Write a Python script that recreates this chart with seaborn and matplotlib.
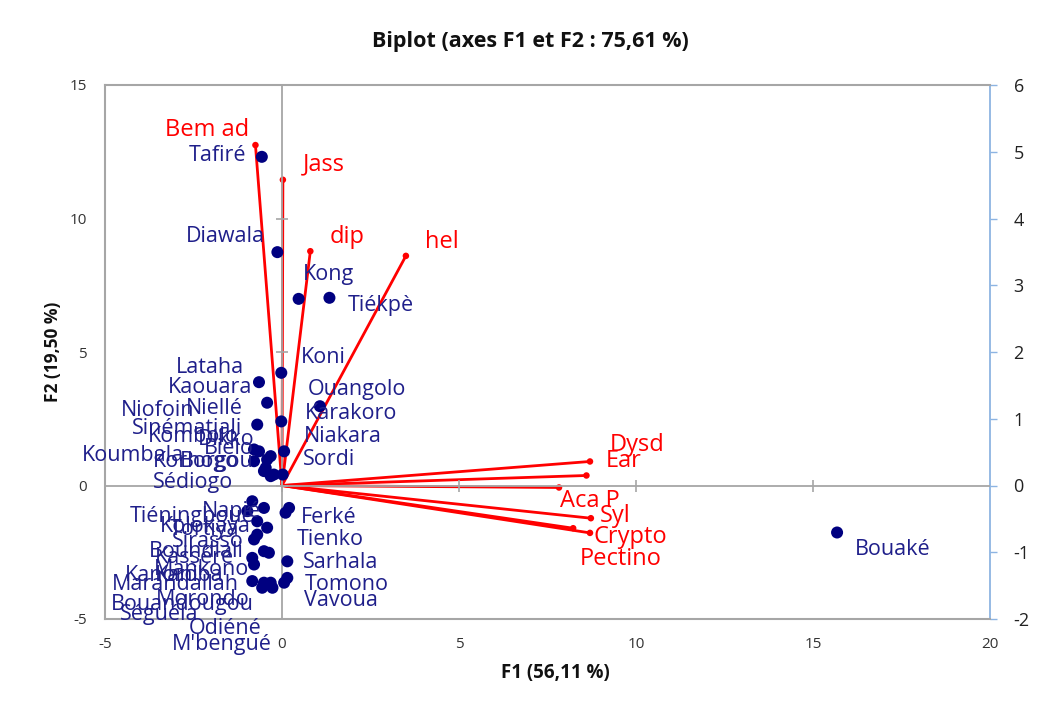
import matplotlib
matplotlib.use("Agg")
import matplotlib.pyplot as plt
import seaborn as sns
import pandas as pd

# ---------------- data ----------------
obs_names = ["Tafiré", "Diawala", "Kong", "Tiékpè",
             "Koni", "Ouangolo", "Karakoro", "Niakara", "Sordi",
             "Lataha", "Kaouara", "Niellé", "Niofoin", "Sinématiali", "Kombolo",
             "Dikko", "Bielo", "Koumbala", "Korhogo", "Borgou", "Sédiogo",
             "Napié", "Tiéningboué", "Tortiya", "Kolokaya", "Sirasso", "Boundiali",
             "Kasséré", "Mankono", "Kanoroba", "Marandallah", "Kani", "Morondo",
             "Bouandougou", "Séguéla", "Odiéné", "M'bengué",
             "Ferké", "Tienko", "Sarhala", "Tomono", "Vavoua", "Bouaké"]
obs_f1 = [-0.57, -0.13, 0.47, 1.34,
          -0.02, 1.07, -0.02, 0.06, 0.02,
          -0.65, -0.42, -0.70, -0.79, -0.65, -0.32,
          -0.42, -0.79, -0.46, -0.51, -0.23, -0.32,
          -0.84, -0.51, -0.98, -0.70, -0.42, -0.70,
          -0.79, -0.51, -0.37, -0.84, -0.79, -0.84,
          -0.51, -0.32, -0.56, -0.27,
          0.20, 0.10, 0.15, 0.15, 0.06, 15.68]
obs_f2 = [12.31, 8.74, 6.99, 7.03,
          4.22, 2.97, 2.40, 1.28, 0.41,
          3.87, 3.10, 2.28, 1.35, 1.28, 1.10,
          0.97, 0.91, 0.66, 0.54, 0.41, 0.35,
          -0.59, -0.84, -0.96, -1.34, -1.58, -1.84,
          -2.02, -2.46, -2.52, -2.71, -2.96, -3.58,
          -3.64, -3.64, -3.83, -3.83,
          -0.84, -1.02, -2.84, -3.46, -3.64, -1.76]

var_names = ["Bem ad", "Jass", "dip", "hel", "Dysd", "Ear",
             "Aca P", "Syl", "Crypto", "Pectino"]
var_f1 = [-0.30, 0.01, 0.32, 1.40, 3.48, 3.44, 3.13, 3.49, 3.48, 3.29]
var_f2 = [5.10, 4.58, 3.51, 3.44, 0.36, 0.15, -0.03, -0.49, -0.71, -0.64]

x_ticks = [-5, 0, 5, 10, 15, 20]
y_ticks = [-5, 0, 5, 10, 15]
y2_ticks = [-2, -1, 0, 1, 2, 3, 4, 5, 6]

title = "Biplot (axes F1 et F2 : 75,61 %)"
xlabel = "F1 (56,11 %)"
ylabel = "F2 (19,50 %)"

# label placement offsets (pixels: dx, dy downward, alignment)
obs_offsets = {
    "Tafiré": (-16, -1, "right"), "Diawala": (-13, -16, "right"),
    "Kong": (4, -24, "left"), "Tiékpè": (18, 8, "left"),
    "Koni": (20, -15, "left"), "Ouangolo": (-12, -17, "left"),
    "Karakoro": (24, -8, "left"), "Niakara": (20, -15, "left"),
    "Sordi": (20, -15, "left"),
    "Lataha": (-15, -15, "right"), "Kaouara": (-15, -15, "right"),
    "Niellé": (-14, -16, "right"), "Niofoin": (-60, -39, "right"),
    "Sinématiali": (-17, -23, "right"), "Kombolo": (-32, -20, "right"),
    "Dikko": (-13, -20, "right"), "Bielo": (0, -13, "right"),
    "Koumbala": (-82, -12, "right"), "Korhogo": (-25, -10, "right"),
    "Borgou": (-20, -13, "right"), "Sédiogo": (-37, 6, "right"),
    "Napié": (9, 10, "right"), "Tiéningboué": (-10, 9, "right"),
    "Tortiya": (-8, 18, "right"), "Kolokaya": (-6, 5, "right"),
    "Sirasso": (-23, 14, "right"), "Boundiali": (-13, 17, "right"),
    "Kasséré": (-20, 18, "right"), "Mankono": (-15, 18, "right"),
    "Kanoroba": (-45, 23, "right"), "Marandallah": (-13, 27, "right"),
    "Kani": (-55, 11, "right"), "Morondo": (-3, 18, "right"),
    "Bouandougou": (-10, 22, "right"), "Séguéla": (-72, 32, "right"),
    "Odiéné": (-1, 41, "right"), "M'bengué": (-1, 57, "right"),
    "Ferké": (12, 10, "left"), "Tienko": (11, 27, "left"),
    "Sarhala": (16, 1, "left"), "Tomono": (17, 7, "left"),
    "Vavoua": (20, 18, "left"), "Bouaké": (18, 17, "left"),
}
var_offsets = {
    "Bem ad": (-6, -15, "right"), "Jass": (20, -15, "left"),
    "dip": (19, -14, "left"), "hel": (19, -14, "left"),
    "Dysd": (20, -16, "left"), "Ear": (19, -14, "left"),
    "Aca P": (1, 13, "left"), "Syl": (9, -2, "left"),
    "Crypto": (4, 4, "left"), "Pectino": (7, 31, "left"),
}

obs = pd.DataFrame({"name": obs_names, "F1": obs_f1, "F2": obs_f2})
var = pd.DataFrame({"name": var_names, "F1": var_f1, "F2": var_f2})

# ---------------- style ----------------
sns.set_theme(style="white")
plt.rcParams["font.family"] = ["Open Sans", "DejaVu Sans"]
plt.rcParams["axes.unicode_minus"] = False

NAVY = "#000080"
NAVY_TXT = "#1F1F8A"
RED = "#FF0000"
GREY = "#A6A6A6"
BLUE = "#8DB4E2"

fig = plt.figure(figsize=(10.37, 7.11), dpi=100)
pos = [105 / 1037, 1 - 619 / 711, (990 - 105) / 1037, (619 - 85) / 711]
ax = fig.add_axes(pos)

ax.set_xlim(-5, 20)
ax.set_ylim(-5, 15)
ax.set_xticks(x_ticks)
ax.set_yticks(y_ticks)
ax.tick_params(axis="y", length=0, labelsize=11, labelcolor="#333333", pad=13)
ax.tick_params(axis="x", length=0, labelsize=11, labelcolor="#333333", pad=13)
for s in ["left", "bottom", "top"]:
    ax.spines[s].set_color(GREY)
    ax.spines[s].set_linewidth(1.5)
ax.spines["right"].set_visible(False)

# zero lines with cross ticks
ax.axhline(0, color=GREY, lw=1.3, zorder=1)
ax.axvline(0, color=GREY, lw=1.3, zorder=1)
ax.plot(x_ticks[1:-1], [0] * len(x_ticks[1:-1]), ls="none", marker="|",
        ms=9, mew=1.2, color=GREY, zorder=1)
ax.plot([0] * len(y_ticks[1:-1]), y_ticks[1:-1], ls="none", marker="_",
        ms=9, mew=1.2, color=GREY, zorder=1)

# secondary axes for variables
ax2 = fig.add_axes(pos)
ax2.patch.set_visible(False)
ax2.set_xlim(-2, 8)
ax2.set_ylim(-2, 6)
ax2.set_yticks(y2_ticks)
ax2.xaxis.set_visible(False)
ax2.yaxis.tick_right()
ax2.tick_params(axis="y", length=5, width=1, color=BLUE, labelsize=13,
                labelcolor="#222222", pad=12, direction="out")
for s in ["left", "bottom", "top"]:
    ax2.spines[s].set_visible(False)
ax2.spines["right"].set_color(BLUE)
ax2.spines["right"].set_linewidth(1.3)

for _, r in var.iterrows():
    ax2.plot([0, r.F1], [0, r.F2], color=RED, lw=2, zorder=3,
             solid_capstyle="round")
sns.scatterplot(data=var, x="F1", y="F2", ax=ax2, color=RED, s=22,
                edgecolor="none", zorder=4, legend=False)
for _, r in var.iterrows():
    dx, dy, ha = var_offsets[r["name"]]
    ax2.annotate(r["name"], (r.F1, r.F2), xytext=(dx, -dy),
                 textcoords="offset pixels", ha=ha, va="center",
                 color=RED, fontsize=17, zorder=5)

sns.scatterplot(data=obs, x="F1", y="F2", ax=ax,
                color=NAVY, s=75, edgecolor="none", zorder=6, legend=False)
for _, r in obs.iterrows():
    dx, dy, ha = obs_offsets[r["name"]]
    ax.annotate(r["name"], (r.F1, r.F2), xytext=(dx, -dy),
                textcoords="offset pixels", ha=ha, va="center",
                color=NAVY_TXT, fontsize=15.5, zorder=7)

ax.set_xlabel("")
ax.set_ylabel("")
ax2.set_xlabel("")
ax2.set_ylabel("")
ax.set_zorder(ax2.get_zorder() + 1)
ax.patch.set_visible(False)

fig.text(530 / 1037, 1 - 42 / 711, title, ha="center", va="center",
         fontsize=15.5, fontweight="bold", color="#111111")
fig.text(555 / 1037, 1 - 673 / 711, xlabel, ha="center", va="center",
         fontsize=13.5, fontweight="bold", color="#111111")
fig.text(53 / 1037, 1 - 352 / 711, ylabel, ha="center", va="center",
         rotation=90, fontsize=12.5, fontweight="bold", color="#111111")

fig.savefig("out.png", dpi=100, facecolor="white")
